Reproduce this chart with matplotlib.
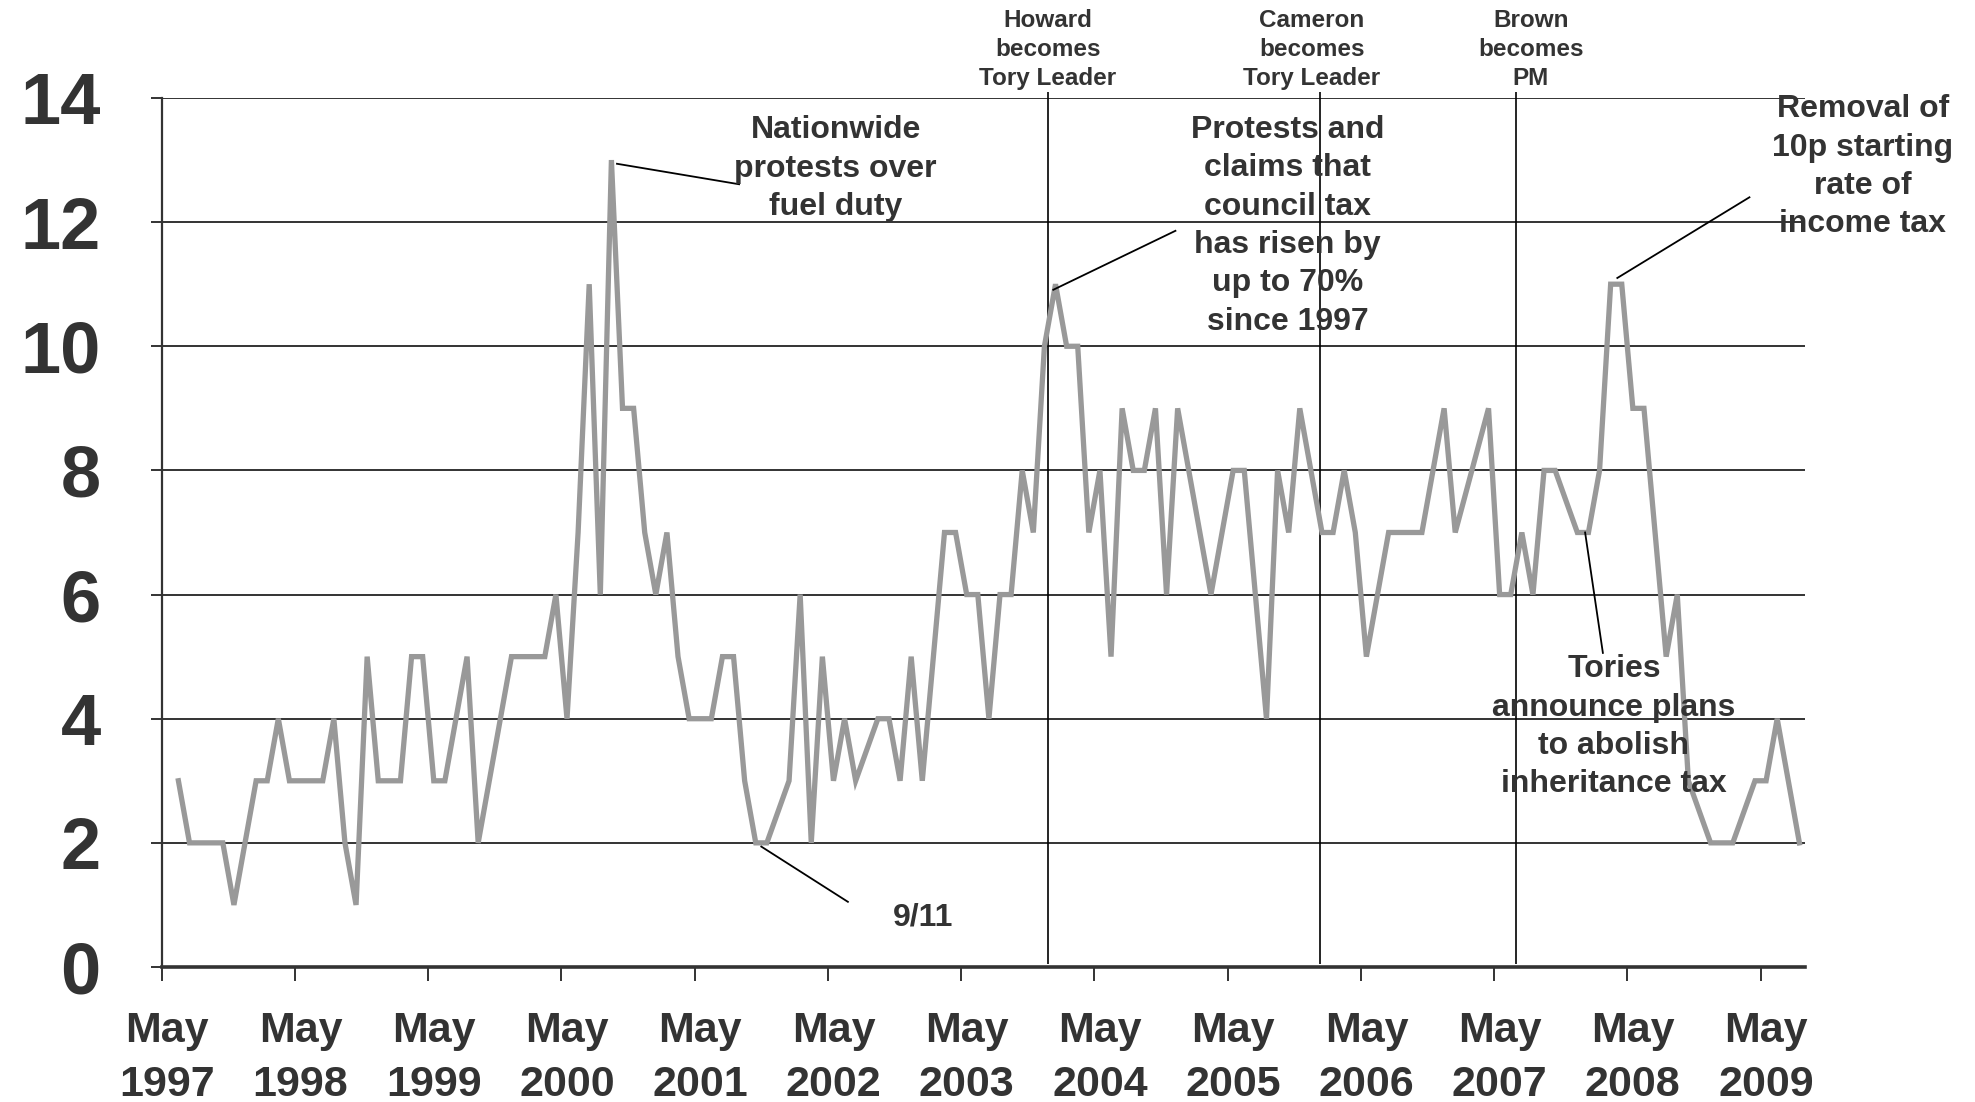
import matplotlib
matplotlib.use("Agg")
import matplotlib.pyplot as plt
import numpy as np

# months counted from May 1997 (0 = May 1997); skipped months had no reading
months = [1, 2, 3, 4, 5, 6, 8, 9, 10, 11, 12, 13, 14, 15, 16, 17, 18, 19, 20, 21,
          22, 23, 24, 25, 27, 28, 31, 32, 33, 34, 35, 36, 37, 38, 39, 40, 41, 42, 43, 44,
          45, 46, 47, 48, 49, 50, 51, 52, 53, 54, 56, 57, 58, 59, 60, 61, 62, 64, 65, 66,
          67, 68, 70, 71, 72, 73, 74, 75, 76, 77, 78, 79, 80, 81, 82, 83, 84, 85, 86, 87,
          88, 89, 90, 91, 94, 96, 97, 99, 100, 101, 102, 104, 105, 106, 107, 108, 110, 111, 112, 113,
          115, 116, 119, 120, 121, 122, 123, 124, 125, 127, 128, 129, 130, 131, 132, 133, 135, 136, 137, 139,
          140, 141, 143, 144, 145, 147]
values = [3, 2, 2, 2, 2, 1, 3, 3, 4, 3, 3, 3, 3, 4, 2, 1, 5, 3, 3, 3,
          5, 5, 3, 3, 5, 2, 5, 5, 5, 5, 6, 4, 7, 11, 6, 13, 9, 9, 7, 6,
          7, 5, 4, 4, 4, 5, 5, 3, 2, 2, 3, 6, 2, 5, 3, 4, 3, 4, 4, 3,
          5, 3, 7, 7, 6, 6, 4, 6, 6, 8, 7, 10, 11, 10, 10, 7, 8, 5, 9, 8,
          8, 9, 6, 9, 6, 8, 8, 4, 8, 7, 9, 7, 7, 8, 7, 5, 7, 7, 7, 7,
          9, 7, 9, 6, 6, 7, 6, 8, 8, 7, 7, 8, 11, 11, 9, 9, 5, 6, 3, 2,
          2, 2, 3, 3, 4, 2]

year_labels = ["May\n%d" % y for y in range(1997, 2010)]

# political events marked with vertical lines
event_labels = ["Howard\nbecomes\nTory Leader", "Cameron\nbecomes\nTory Leader",
                "Brown\nbecomes\nPM"]
event_months = [79.8, 104.3, 122.0]
event_text_x = [79.8, 103.6, 123.3]

# annotations: text, text position, leader line (x0, y0, x1, y1)
notes = [
    ("Nationwide\nprotests over\nfuel duty", (60.7, 12.86), (41.0, 12.94, 52.0, 12.61)),
    ("9/11", (68.6, 0.8), (54.0, 1.94, 61.8, 1.05)),
    ("Protests and\nclaims that\ncouncil tax\nhas risen by\nup to 70%\nsince 1997",
     (101.4, 11.94), (80.3, 10.91, 91.3, 11.86)),
    ("Removal of\n10p starting\nrate of\nincome tax", (153.2, 12.89), (131.1, 11.1, 143.0, 12.4)),
    ("Tories\nannounce plans\nto abolish\ninheritance tax", (130.8, 3.87), (128.2, 7.0, 129.8, 5.06)),
]

TEXT = "#333333"
plt.rcParams['font.family'] = ['Liberation Sans', 'DejaVu Sans']
plt.rcParams['font.weight'] = 'bold'

fig = plt.figure(figsize=(19.75, 11.02), dpi=100)
ax = fig.add_axes([0.0819, 0.1225, 0.8320, 0.7886])

ax.plot(np.array(months) + 0.5, values, color="#999999", lw=3.8,
        solid_joinstyle="miter", zorder=3)

ax.set_xlim(0, 148)
ax.set_ylim(0, 14)

# y axis
ax.set_yticks(range(0, 15, 2))
ax.yaxis.grid(True, color=TEXT, lw=1.4)
ax.set_axisbelow(True)
ax.tick_params(axis="y", length=8, width=1.4, color=TEXT, labelsize=52,
               labelcolor=TEXT, pad=36)

# x axis: ticks at year boundaries, labels centred on May
ax.set_xticks(range(0, 145, 12))
ax.set_xticklabels([])
ax.set_xticks(np.arange(len(year_labels)) * 12 + 0.5, minor=True)
ax.set_xticklabels(year_labels, minor=True)
ax.tick_params(axis="x", which="major", length=10, width=1.4, color=TEXT)
ax.tick_params(axis="x", which="minor", length=0, labelsize=31,
               labelcolor=TEXT, pad=32)
for lab in ax.get_xticklabels(minor=True):
    lab.set_linespacing(1.44)

for side in ["top", "right"]:
    ax.spines[side].set_visible(False)
ax.spines["left"].set_color(TEXT)
ax.spines["left"].set_linewidth(1.6)
ax.spines["bottom"].set_color(TEXT)
ax.spines["bottom"].set_linewidth(2.6)

for m, tx, label in zip(event_months, event_text_x, event_labels):
    ax.vlines(m, 0.05, 14.1, color="black", lw=1.2, clip_on=False, zorder=2)
    ax.text(tx, 14.78, label, ha="center", va="center", fontsize=17.5,
            color=TEXT, linespacing=1.32, clip_on=False)

for text, (tx, ty), (x0, y0, x1, y1) in notes:
    ax.plot([x0, x1], [y0, y1], color="black", lw=1.3, clip_on=False, zorder=4)
    ax.text(tx, ty, text, ha="center", va="center", fontsize=23,
            color=TEXT, linespacing=1.36, clip_on=False, zorder=5)

fig.savefig("out.png", dpi=100)
